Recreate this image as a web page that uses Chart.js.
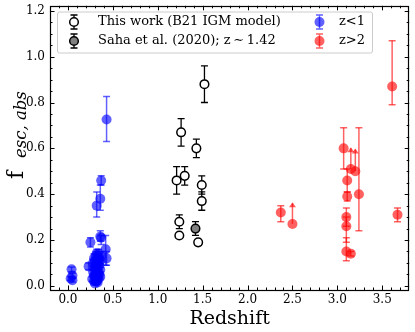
<!DOCTYPE html>
<html><head><meta charset="utf-8">
<script src="https://cdn.jsdelivr.net/npm/chart.js@4.4.0/dist/chart.umd.min.js"></script>
<style>html,body{margin:0;padding:0;background:#fff;overflow:hidden}</style>
</head><body>
<canvas id="c" width="415" height="332" style="display:block;width:415px;height:332px"></canvas>
<script>
// ---- tick labels ----
const xTickValues = [0.0, 0.5, 1.0, 1.5, 2.0, 2.5, 3.0, 3.5];
const yTickValues = [0.0, 0.2, 0.4, 0.6, 0.8, 1.0, 1.2];

// ---- This work (B21 IGM model) ----
const thisZ   = [1.52, 1.26, 1.43, 1.21, 1.30, 1.49, 1.49, 1.24, 1.24, 1.45];
const thisF   = [0.88, 0.67, 0.60, 0.46, 0.48, 0.44, 0.37, 0.28, 0.22, 0.19];
const thisELo = [0.08, 0.06, 0.04, 0.06, 0.04, 0.04, 0.04, 0.03, 0.01, 0.01];
const thisEHi = [0.08, 0.06, 0.04, 0.06, 0.04, 0.04, 0.04, 0.03, 0.01, 0.01];

// ---- Saha et al. (2020) ----
const sahaZ   = [1.42];
const sahaF   = [0.25];
const sahaELo = [0.03];
const sahaEHi = [0.03];

// ---- z<1 ----
const lowZ = [0.43, 0.37, 0.36, 0.32, 0.25, 0.36, 0.37, 0.42, 0.43, 0.23, 0.04, 0.05, 0.03, 0.05,
  0.27, 0.28, 0.28, 0.29, 0.29, 0.29, 0.30, 0.30, 0.30, 0.30, 0.31, 0.31, 0.31, 0.31, 0.32, 0.32,
  0.32, 0.32, 0.33, 0.33, 0.33, 0.33, 0.34, 0.34, 0.34, 0.34, 0.35, 0.35, 0.35, 0.36, 0.36, 0.36,
  0.37, 0.29, 0.32];
const lowF = [0.726, 0.46, 0.38, 0.35, 0.19, 0.215, 0.21, 0.16, 0.12, 0.085, 0.072, 0.045, 0.032, 0.025,
  0.03, 0.06, 0.10, 0.02, 0.08, 0.12, 0.01, 0.04, 0.07, 0.11, 0.02, 0.05, 0.09, 0.13, 0.03, 0.06,
  0.10, 0.14, 0.015, 0.04, 0.08, 0.12, 0.03, 0.06, 0.10, 0.14, 0.05, 0.09, 0.12, 0.04, 0.07, 0.11,
  0.13, 0.045, 0.02];
const lowELo = [0.096, 0.02, 0.05, 0.05, 0.02, 0.02, 0.03, 0.07, 0.03, 0.015, 0.01, 0.01, 0.008, 0.008,
  0.01, 0.01, 0.015, 0.01, 0.01, 0.02, 0.005, 0.01, 0.01, 0.015, 0.01, 0.01, 0.01, 0.02, 0.01, 0.01,
  0.015, 0.02, 0.005, 0.01, 0.01, 0.015, 0.01, 0.01, 0.02, 0.02, 0.01, 0.01, 0.02, 0.01, 0.01, 0.015,
  0.02, 0.01, 0.01];
const lowEHi = [0.10, 0.02, 0.06, 0.06, 0.02, 0.025, 0.01, 0.06, 0.03, 0.015, 0.01, 0.01, 0.008, 0.008,
  0.01, 0.01, 0.015, 0.01, 0.01, 0.02, 0.005, 0.01, 0.01, 0.015, 0.01, 0.01, 0.01, 0.02, 0.01, 0.01,
  0.015, 0.02, 0.005, 0.01, 0.01, 0.015, 0.01, 0.01, 0.02, 0.02, 0.01, 0.01, 0.02, 0.01, 0.01, 0.015,
  0.02, 0.01, 0.01];

// ---- z>2 ----
const highZ   = [2.37, 2.50, 3.07, 3.11, 3.11, 3.10, 3.10, 3.10, 3.15, 3.15, 3.20, 3.24, 3.61, 3.67];
const highF   = [0.32, 0.27, 0.60, 0.46, 0.39, 0.30, 0.26, 0.15, 0.14, 0.51, 0.50, 0.40, 0.87, 0.31];
const highELo = [0.04, 0.00, 0.09, 0.05, 0.02, 0.04, 0.07, 0.04, 0.01, 0.00, 0.00, 0.16, 0.08, 0.03];
const highEHi = [0.03, 0.09, 0.09, 0.05, 0.02, 0.04, 0.04, 0.06, 0.01, 0.09, 0.095, 0.29, 0.20, 0.03];
const highLowerLimit = [0, 1, 0, 0, 0, 0, 0, 0, 0, 1, 1, 0, 0, 0];

const FONT = "'DejaVu Serif', 'Liberation Serif', serif";
const BLUE = 'rgba(0,0,255,0.62)';
const RED = 'rgba(255,0,0,0.62)';

function pts(xs, ys) { return xs.map((x, i) => ({ x: x, y: ys[i] })); }

const errorBarPlugin = {
  id: 'errbars',
  beforeDatasetDraw(chart, args) {
    const ds = chart.data.datasets[args.index];
    if (!ds.err) return;
    const ctx = chart.ctx, xs = chart.scales.x, ys = chart.scales.y;
    const e = ds.err;
    ctx.save();
    ctx.strokeStyle = e.color; ctx.fillStyle = e.color; ctx.lineWidth = e.lw;
    ds.data.forEach((p, i) => {
      const px = xs.getPixelForValue(p.x);
      const pl = ys.getPixelForValue(p.y - e.lo[i]);
      const ph = ys.getPixelForValue(p.y + e.hi[i]);
      ctx.beginPath(); ctx.moveTo(px, pl); ctx.lineTo(px, ph); ctx.stroke();
      if (e.lim && e.lim[i]) {
        ctx.beginPath();
        ctx.moveTo(px - 3.5, ph + 4); ctx.lineTo(px, ph - 1); ctx.lineTo(px + 3.5, ph + 4);
        ctx.closePath(); ctx.fill();
      } else {
        ctx.beginPath();
        ctx.moveTo(px - e.cap, pl); ctx.lineTo(px + e.cap, pl);
        ctx.moveTo(px - e.cap, ph); ctx.lineTo(px + e.cap, ph);
        ctx.stroke();
      }
    });
    ctx.restore();
  }
};

const framePlugin = {
  id: 'frame',
  afterDraw(chart) {
    const ctx = chart.ctx, a = chart.chartArea, xs = chart.scales.x, ys = chart.scales.y;
    ctx.save();
    ctx.strokeStyle = '#000';
    ctx.lineWidth = 1;
    ctx.beginPath();
    for (let k = -1; k <= 37; k++) {
      const v = k / 10; const px = Math.round(xs.getPixelForValue(v)) + 0.5;
      if (px < a.left || px > a.right) continue;
      const L = (k % 5 === 0) ? 4.5 : 2.5;
      ctx.moveTo(px, a.bottom); ctx.lineTo(px, a.bottom - L);
      ctx.moveTo(px, a.top); ctx.lineTo(px, a.top + L);
    }
    for (let k = 0; k <= 24; k++) {
      const v = k / 20; const py = Math.round(ys.getPixelForValue(v)) + 0.5;
      if (py < a.top || py > a.bottom) continue;
      const L = (k % 4 === 0) ? 4.5 : 2.5;
      ctx.moveTo(a.left, py); ctx.lineTo(a.left + L, py);
      ctx.moveTo(a.right, py); ctx.lineTo(a.right - L, py);
    }
    ctx.stroke();
    ctx.lineWidth = 1.2;
    ctx.strokeRect(Math.round(a.left) + 0.5, Math.round(a.top) + 0.5,
      Math.round(a.right) - Math.round(a.left) - 1, Math.round(a.bottom) - Math.round(a.top));

    // axis titles
    ctx.fillStyle = '#000';
    ctx.font = '19px ' + FONT;
    ctx.textAlign = 'center'; ctx.textBaseline = 'alphabetic';
    ctx.fillText('Redshift', (a.left + a.right) / 2, 324);

    ctx.save();
    ctx.translate(23, 179);
    ctx.rotate(-Math.PI / 2);
    ctx.textAlign = 'left';
    ctx.font = '22px ' + FONT;
    ctx.fillText('f', 0, 0);
    ctx.font = 'italic 16.5px ' + FONT;
    ctx.fillText('esc, abs', 21, 3);
    ctx.restore();

    // legend
    const lx = 57, ly = 11.5, lw2 = 315, lh = 41;
    ctx.save();
    ctx.fillStyle = 'rgba(255,255,255,0.85)';
    ctx.strokeStyle = '#cccccc'; ctx.lineWidth = 1;
    ctx.beginPath();
    if (ctx.roundRect) ctx.roundRect(lx + 0.5, ly + 0.5, lw2, lh, 2); else ctx.rect(lx + 0.5, ly + 0.5, lw2, lh);
    ctx.fill(); ctx.stroke();
    ctx.restore();

    function legMarker(x, y, fill, stroke, errColor, r, lwErr) {
      ctx.save();
      ctx.strokeStyle = errColor; ctx.lineWidth = lwErr;
      ctx.beginPath();
      ctx.moveTo(x, y - 7); ctx.lineTo(x, y + 7);
      ctx.moveTo(x - 3.5, y - 7); ctx.lineTo(x + 3.5, y - 7);
      ctx.moveTo(x - 3.5, y + 7); ctx.lineTo(x + 3.5, y + 7);
      ctx.stroke();
      ctx.beginPath(); ctx.arc(x, y, r, 0, Math.PI * 2);
      ctx.fillStyle = fill; ctx.fill();
      if (stroke) { ctx.strokeStyle = stroke; ctx.lineWidth = 1.5; ctx.stroke(); }
      ctx.restore();
    }
    legMarker(74, 22, '#ffffff', '#000', '#000', 4.3, 1.3);
    legMarker(74, 41, '#808080', '#000', '#000', 4.3, 1.3);
    legMarker(319.5, 22, BLUE, null, BLUE, 5, 1.5);
    legMarker(319.5, 41, RED, null, RED, 5, 1.5);
    ctx.fillStyle = '#000';
    ctx.font = '13px ' + FONT;
    ctx.textAlign = 'left'; ctx.textBaseline = 'middle';
    ctx.fillText('This work (B21 IGM model)', 98, 22);
    ctx.fillText('Saha et al. (2020); z\u2009\u223C\u20091.42', 98, 41);
    ctx.fillText('z<1', 339, 22);
    ctx.fillText('z>2', 339, 41);
    ctx.restore();
  }
};

new Chart(document.getElementById('c'), {
  type: 'scatter',
  data: {
    datasets: [
      { label: 'This work (B21 IGM model)', data: pts(thisZ, thisF), order: 0,
        pointRadius: 4.3, pointBackgroundColor: '#ffffff', pointBorderColor: '#000', pointBorderWidth: 1.5,
        err: { lo: thisELo, hi: thisEHi, color: '#000', lw: 1.3, cap: 3.5 } },
      { label: 'Saha et al. (2020); z ~ 1.42', data: pts(sahaZ, sahaF), order: 1,
        pointRadius: 4.3, pointBackgroundColor: '#808080', pointBorderColor: '#000', pointBorderWidth: 1.5,
        err: { lo: sahaELo, hi: sahaEHi, color: '#000', lw: 1.3, cap: 3.5 } },
      { label: 'z>2', data: pts(highZ, highF), order: 2,
        pointRadius: 5, pointBackgroundColor: RED, pointBorderWidth: 0,
        err: { lo: highELo, hi: highEHi, lim: highLowerLimit, color: RED, lw: 1.5, cap: 3.5 } },
      { label: 'z<1', data: pts(lowZ, lowF), order: 3,
        pointRadius: 5, pointBackgroundColor: BLUE, pointBorderWidth: 0,
        err: { lo: lowELo, hi: lowEHi, color: BLUE, lw: 1.5, cap: 3.5 } }
    ]
  },
  options: {
    responsive: false, animation: false, devicePixelRatio: 1,
    layout: { padding: { left: 0, top: 4.7, right: 5.7, bottom: 0 } },
    plugins: { legend: { display: false }, tooltip: { enabled: false } },
    scales: {
      x: {
        type: 'linear', min: -0.2, max: 3.8,
        afterBuildTicks: s => { s.ticks = xTickValues.map(v => ({ value: v })); },
        afterFit: s => { s.height = 42; },
        grid: { display: false, drawTicks: false },
        border: { display: false },
        ticks: { padding: 3, color: '#000', font: { family: FONT, size: 12 }, maxRotation: 0,
          callback: v => v.toFixed(1) }
      },
      y: {
        type: 'linear', min: -0.018, max: 1.222,
        afterBuildTicks: s => { s.ticks = yTickValues.map(v => ({ value: v })); },
        afterFit: s => { s.width = 50; },
        grid: { display: false, drawTicks: false },
        border: { display: false },
        ticks: { padding: 5, color: '#000', font: { family: FONT, size: 12, lineHeight: 0.01 },
          callback: v => v.toFixed(1) }
      }
    }
  },
  plugins: [errorBarPlugin, framePlugin]
});
</script>
</body></html>
